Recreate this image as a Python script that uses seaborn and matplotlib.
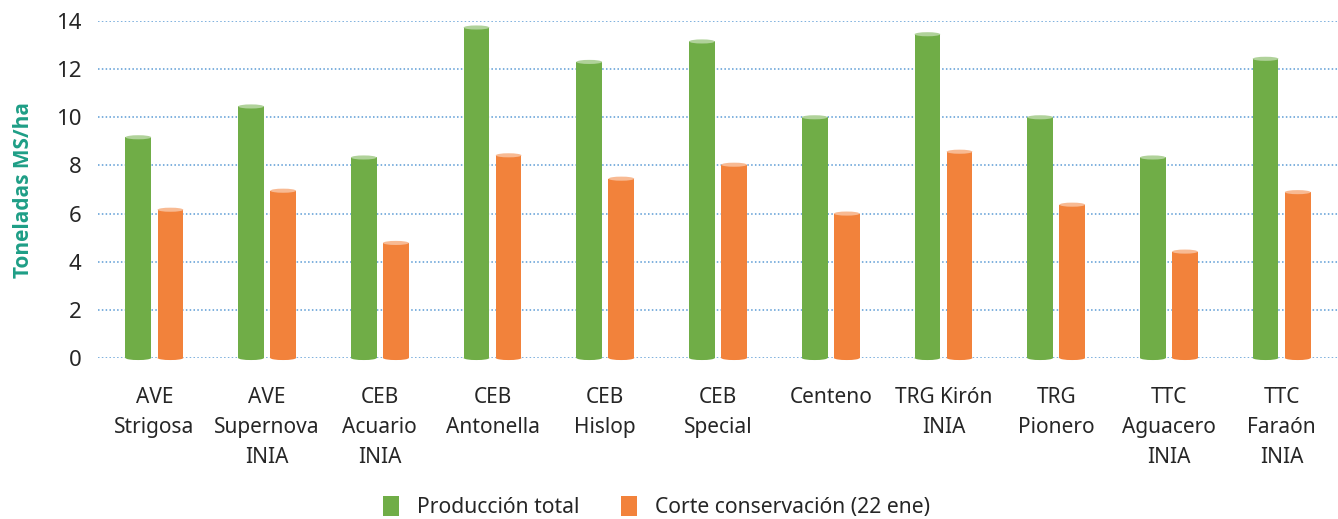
import matplotlib
matplotlib.use("Agg")
import matplotlib.pyplot as plt
from matplotlib.patches import Ellipse
import matplotlib.colors as mcolors
import seaborn as sns
import pandas as pd

categories = ["AVE\nStrigosa", "AVE\nSupernova\nINIA", "CEB\nAcuario\nINIA", "CEB\nAntonella",
              "CEB\nHislop", "CEB\nSpecial", "Centeno", "TRG Kirón\nINIA", "TRG\nPionero",
              "TTC\nAguacero\nINIA", "TTC\nFaraón\nINIA"]
produccion_total = [9.17, 10.45, 8.33, 13.73, 12.3, 13.15, 10.0, 13.45, 10.0, 8.33, 12.43]
corte_conservacion = [6.16, 6.95, 4.78, 8.42, 7.45, 8.03, 6.0, 8.57, 6.37, 4.42, 6.89]
series_names = ["Producción total", "Corte conservación (22 ene)"]
colors = ["#70AD47", "#F2823B"]

df = pd.DataFrame({
    "cat": categories * 2,
    "val": produccion_total + corte_conservacion,
    "serie": [series_names[0]] * len(categories) + [series_names[1]] * len(categories),
})

sns.set_theme(style="white")
plt.rcParams["font.family"] = ["Noto Sans", "DejaVu Sans"]

fig = plt.figure(figsize=(13.38, 5.19), dpi=100)
ax = fig.add_axes([98 / 1338, (519 - 358) / 519, 1 - 98 / 1338, (358 - 21) / 519])

sns.barplot(data=df, x="cat", y="val", hue="serie", palette=colors, width=0.57, gap=0.2,
            ax=ax, legend=False, saturation=1, linewidth=0)

ax.set_ylim(0, 14)
ax.set_xlim(-0.5, len(categories) - 0.5)
ax.set_yticks(range(0, 15, 2))
ax.yaxis.grid(True, linestyle=(0, (1, 1.5)), color="#5B9BD5", linewidth=1.1)
ax.set_axisbelow(True)
for s in ax.spines.values():
    s.set_visible(False)
ax.tick_params(axis="both", length=0, labelsize=15, colors="#262626")
ax.tick_params(axis="y", pad=12, labelsize=16)
ax.tick_params(axis="x", pad=21)
for lab in ax.get_xticklabels():
    lab.set_linespacing(1.55)
    lab.set_verticalalignment("top")
ax.set_xlabel("")
ax.set_ylabel("Toneladas MS/ha", fontsize=15, fontweight="bold", color="#1E9E86", labelpad=16,
              family=["Open Sans", "Lato", "DejaVu Sans"])

cap_h = 0.17
for cont, col in zip(ax.containers, colors):
    light = mcolors.to_rgba(col)
    light = tuple(0.55 * c + 0.45 for c in light[:3]) + (1,)
    for bar in cont:
        x0 = bar.get_x()
        w = bar.get_width()
        h = bar.get_height()
        ax.add_patch(Ellipse((x0 + w / 2, 0), w, cap_h, facecolor=col, edgecolor="none",
                             clip_on=False, zorder=bar.get_zorder()))
        ax.add_patch(Ellipse((x0 + w / 2, h), w, cap_h, facecolor=light, edgecolor="none",
                             clip_on=False, zorder=bar.get_zorder() + 0.1))

handles = [plt.Rectangle((0, 0), 1, 1, facecolor=c, edgecolor="none") for c in colors]
fig.legend(handles, series_names, loc="center", bbox_to_anchor=(0.4907, 0.023), ncol=2,
           frameon=False, fontsize=15.2, handlelength=0.75, handleheight=1.1,
           columnspacing=2.0, handletextpad=0.85, labelcolor="#262626")

fig.savefig("out.png", dpi=100)
